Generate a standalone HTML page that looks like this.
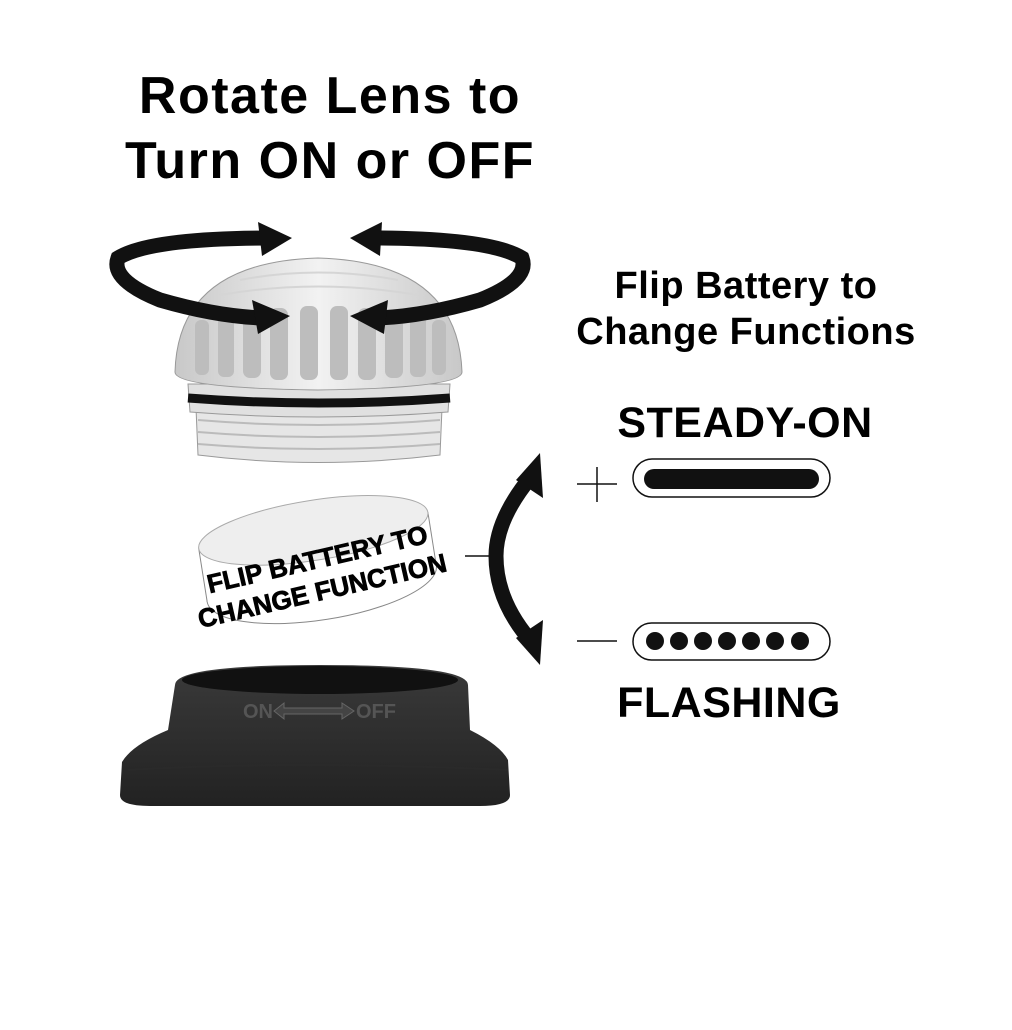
<!DOCTYPE html>
<html><head><style>
html,body{margin:0;padding:0;background:#fff;}
svg{display:block;font-family:"Liberation Sans",Arial,sans-serif;}
</style></head><body>
<svg width="1012" height="1030" viewBox="0 0 1012 1030" xmlns="http://www.w3.org/2000/svg">
<defs>
<linearGradient id="dome" x1="0" y1="0" x2="1" y2="0">
<stop offset="0" stop-color="#c8c8c8"/><stop offset="0.5" stop-color="#f2f2f2"/><stop offset="1" stop-color="#c8c8c8"/>
</linearGradient>
<linearGradient id="base" x1="0" y1="0" x2="0" y2="1">
<stop offset="0" stop-color="#3a3a3a"/><stop offset="1" stop-color="#222"/>
</linearGradient>
</defs>
<text x="330" y="113" font-size="52" font-weight="bold" text-anchor="middle" letter-spacing="1.5">Rotate Lens to</text>
<text x="330" y="178" font-size="52" font-weight="bold" text-anchor="middle" letter-spacing="1.5">Turn ON or OFF</text>

<!-- lens threads -->
<path d="M196 408 L442 408 L440 455 Q318 470 198 455 Z" fill="#e6e6e6" stroke="#999" stroke-width="1"/>
<g stroke="#bbb" stroke-width="2" fill="none">
<path d="M198 420 Q318 430 440 420"/><path d="M198 432 Q318 442 440 432"/><path d="M198 444 Q318 454 440 444"/>
</g>
<path d="M188 384 L450 384 L448 412 Q318 422 190 412 Z" fill="#e0e0e0" stroke="#999"/>
<path d="M188 398 Q318 408 450 398" stroke="#111" stroke-width="9" fill="none"/>
<path d="M175 372 Q178 262 318 258 Q458 262 462 372 Q462 388 318 390 Q175 388 175 372 Z" fill="url(#dome)" stroke="#999"/>
<g fill="#bdbdbd">
<rect x="195" y="320" width="14" height="55" rx="6"/><rect x="218" y="315" width="16" height="62" rx="6"/>
<rect x="243" y="310" width="18" height="68" rx="7"/><rect x="270" y="308" width="18" height="72" rx="7"/>
<rect x="300" y="306" width="18" height="74" rx="7"/><rect x="330" y="306" width="18" height="74" rx="7"/>
<rect x="358" y="308" width="18" height="72" rx="7"/><rect x="385" y="310" width="18" height="68" rx="7"/>
<rect x="410" y="315" width="16" height="62" rx="6"/><rect x="432" y="320" width="14" height="55" rx="6"/>
</g>
<g stroke="#d5d5d5" stroke-width="2" fill="none">
<path d="M240 280 Q318 265 398 280"/><path d="M220 295 Q318 278 418 295"/>
</g>
<!-- rotate arrows -->
<path d="M270 238 Q150 238 118 258 Q110 280 160 300 Q215 316 262 318" stroke="#111" stroke-width="15" fill="none"/>
<polygon points="258,222 292,238 262,256" fill="#111"/>
<polygon points="252,300 290,316 258,334" fill="#111"/>
<path d="M370 238 Q490 238 522 258 Q530 280 480 300 Q425 316 378 318" stroke="#111" stroke-width="15" fill="none"/>
<polygon points="382,222 350,238 380,256" fill="#111"/>
<polygon points="388,300 350,316 384,334" fill="#111"/>

<!-- battery -->
<g transform="rotate(-9 318 560)">
<ellipse cx="318" cy="584" rx="116" ry="36" fill="#fff" stroke="#888"/>
<rect x="202" y="530" width="232" height="54" fill="#fff"/>
<line x1="202" y1="530" x2="202" y2="584" stroke="#888"/>
<line x1="434" y1="530" x2="434" y2="584" stroke="#888"/>
<ellipse cx="318" cy="530" rx="116" ry="30" fill="#eee" stroke="#aaa"/>
<text x="318" y="568" font-size="26" font-weight="bold" text-anchor="middle" transform="rotate(-4 318 568)" stroke="#000" stroke-width="0.8">FLIP BATTERY TO</text>
<text x="318" y="600" font-size="26" font-weight="bold" text-anchor="middle" transform="rotate(-4 318 600)" stroke="#000" stroke-width="0.8">CHANGE FUNCTION</text>
</g>

<!-- base -->
<path d="M175 685 Q175 665 320 665 Q468 665 468 685 L470 730 Q500 745 508 760 L510 795 Q510 806 480 806 L150 806 Q120 806 120 795 L122 762 Q132 745 168 730 Z" fill="url(#base)"/>
<ellipse cx="320" cy="680" rx="138" ry="14" fill="#111"/>
<text x="243" y="718" font-size="20" font-weight="bold" fill="#555">ON</text>
<text x="356" y="718" font-size="20" font-weight="bold" fill="#555">OFF</text>
<path d="M274 711 L284 703 L284 708 L342 708 L342 703 L354 711 L342 719 L342 714 L284 714 L284 719 Z" fill="#444" stroke="#666"/>
<path d="M128 770 Q300 760 508 770" stroke="#2a2a2a" stroke-width="2" fill="none"/>

<!-- right side -->
<text x="746" y="298" font-size="38" font-weight="bold" text-anchor="middle" letter-spacing="0.5">Flip Battery to</text>
<text x="746" y="344" font-size="38" font-weight="bold" text-anchor="middle" letter-spacing="0.5">Change Functions</text>
<text x="745" y="437" font-size="43" font-weight="bold" text-anchor="middle" letter-spacing="0.5">STEADY-ON</text>
<text x="729" y="717" font-size="43" font-weight="bold" text-anchor="middle" letter-spacing="0.5">FLASHING</text>

<path d="M577 484 L617 484 M597 467 L597 502" stroke="#111" stroke-width="1.5"/>
<path d="M577 641 L617 641" stroke="#111" stroke-width="1.5"/>
<rect x="633" y="459" width="197" height="38" rx="19" fill="#fff" stroke="#111" stroke-width="1.5"/>
<rect x="644" y="469" width="175" height="20" rx="10" fill="#111"/>
<rect x="633" y="623" width="197" height="37" rx="18.5" fill="#fff" stroke="#111" stroke-width="1.5"/>
<g fill="#111">
<circle cx="655" cy="641" r="9"/><circle cx="679" cy="641" r="9"/><circle cx="703" cy="641" r="9"/>
<circle cx="727" cy="641" r="9"/><circle cx="751" cy="641" r="9"/><circle cx="775" cy="641" r="9"/><circle cx="800" cy="641" r="9"/>
</g>

<!-- flip arrow -->
<line x1="465" y1="556" x2="495" y2="556" stroke="#111" stroke-width="1.5"/>
<path d="M530 478 Q496 520 496 556 Q496 600 530 640" stroke="#111" stroke-width="15" fill="none"/>
<polygon points="540,453 543,498 516,480" fill="#111"/>
<polygon points="540,665 543,620 516,638" fill="#111"/>
</svg>
</body></html>
